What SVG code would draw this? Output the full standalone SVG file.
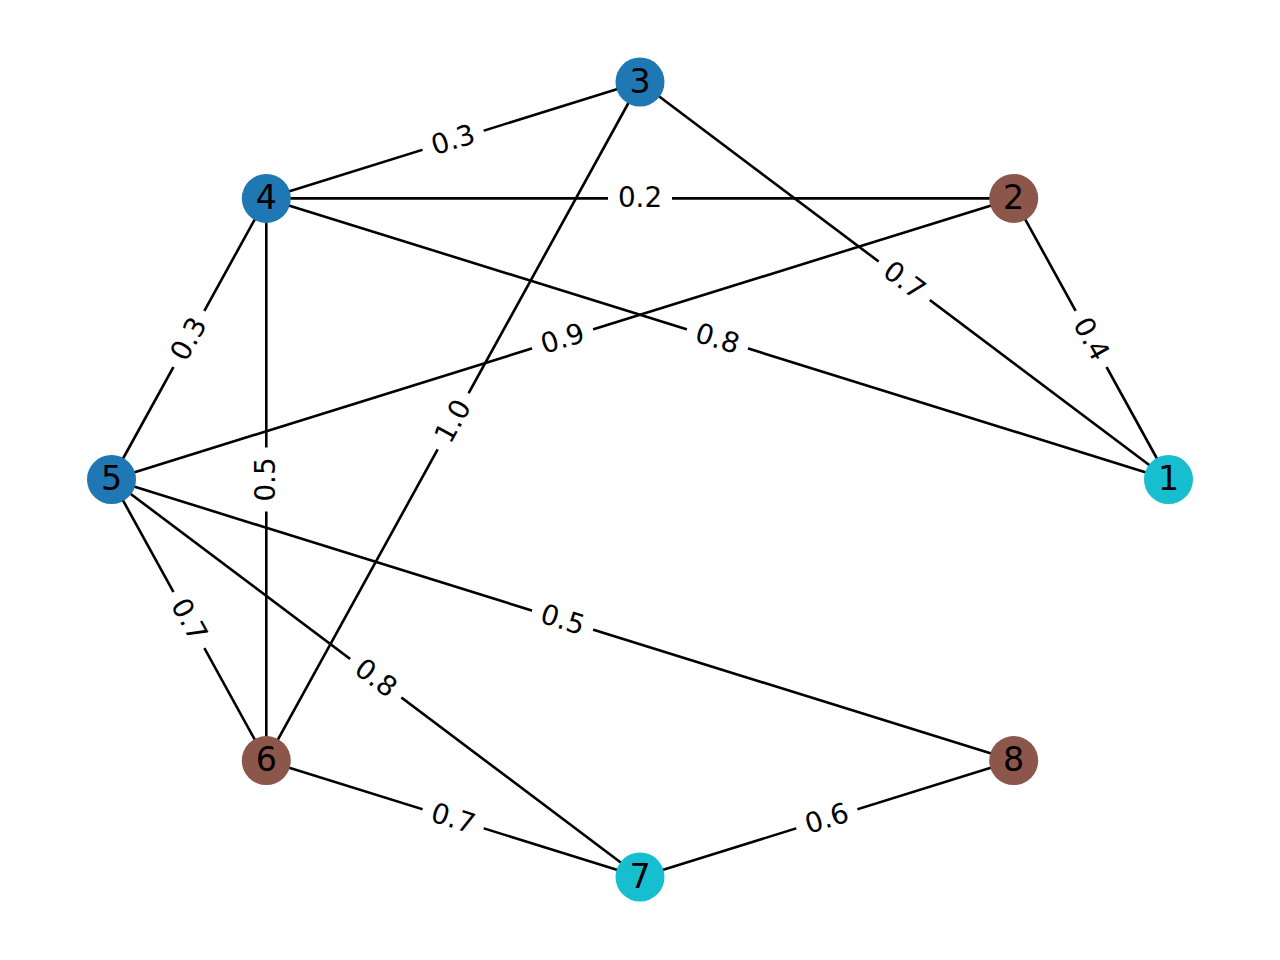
<svg xmlns="http://www.w3.org/2000/svg" width="1280" height="960" viewBox="0 0 1280 960">
<style>
.e{stroke:#000;stroke-width:2.6;fill:none}
.lb rect{fill:#fff;stroke:#fff}
.lb text{font-family:"DejaVu Sans",sans-serif;font-size:27.8px;text-anchor:middle;fill:#000}
.n text{font-family:"DejaVu Sans",sans-serif;font-size:33.3px;text-anchor:middle;fill:#000}
.blue{fill:#1f77b4}.brown{fill:#8c564b}.cyan{fill:#17becf}
</style>
<defs>
<rect id="bx" x="-32" y="-19" width="64" height="38" rx="9"/>
</defs>
<rect width="1280" height="960" fill="#fff"/>
<g id="edges">
<line class="e" x1="266.3" y1="198.4" x2="640" y2="82"/>
<line class="e" x1="266.3" y1="198.4" x2="1013.7" y2="198.4"/>
<line class="e" x1="640" y1="82" x2="1168.5" y2="479.5"/>
<line class="e" x1="1013.7" y1="198.4" x2="1168.5" y2="479.5"/>
<line class="e" x1="266.3" y1="198.4" x2="1168.5" y2="479.5"/>
<line class="e" x1="111.5" y1="479.5" x2="1013.7" y2="198.4"/>
<line class="e" x1="266.3" y1="760.6" x2="640" y2="82"/>
<line class="e" x1="111.5" y1="479.5" x2="266.3" y2="198.4"/>
<line class="e" x1="266.3" y1="198.4" x2="266.3" y2="760.6"/>
<line class="e" x1="111.5" y1="479.5" x2="1013.7" y2="760.6"/>
<line class="e" x1="111.5" y1="479.5" x2="266.3" y2="760.6"/>
<line class="e" x1="111.5" y1="479.5" x2="640" y2="877"/>
<line class="e" x1="266.3" y1="760.6" x2="640" y2="877"/>
<line class="e" x1="640" y1="877" x2="1013.7" y2="760.6"/>
</g>
<g id="edge-labels">
<g class="lb" transform="translate(453.15,140.2) rotate(-17.3)"><use href="#bx" fill="#fff"/><text y="9">0.3</text></g>
<g class="lb" transform="translate(640,198.4)"><use href="#bx" fill="#fff"/><text y="9">0.2</text></g>
<g class="lb" transform="translate(904.25,280.75) rotate(36.95)"><use href="#bx" fill="#fff"/><text y="9">0.7</text></g>
<g class="lb" transform="translate(1091.1,338.95) rotate(61.16)"><use href="#bx" fill="#fff"/><text y="9">0.4</text></g>
<g class="lb" transform="translate(717.4,338.95) rotate(17.3)"><use href="#bx" fill="#fff"/><text y="9">0.8</text></g>
<g class="lb" transform="translate(562.6,338.95) rotate(-17.3)"><use href="#bx" fill="#fff"/><text y="9">0.9</text></g>
<g class="lb" transform="translate(453.15,421.3) rotate(-61.16)"><use href="#bx" fill="#fff"/><text y="9">1.0</text></g>
<g class="lb" transform="translate(188.9,338.95) rotate(-61.16)"><use href="#bx" fill="#fff"/><text y="9">0.3</text></g>
<g class="lb" transform="translate(266.3,479.5) rotate(-90)"><use href="#bx" fill="#fff"/><text y="9">0.5</text></g>
<g class="lb" transform="translate(562.6,620.05) rotate(17.3)"><use href="#bx" fill="#fff"/><text y="9">0.5</text></g>
<g class="lb" transform="translate(188.9,620.05) rotate(61.16)"><use href="#bx" fill="#fff"/><text y="9">0.7</text></g>
<g class="lb" transform="translate(375.75,678.25) rotate(36.95)"><use href="#bx" fill="#fff"/><text y="9">0.8</text></g>
<g class="lb" transform="translate(453.15,818.8) rotate(17.3)"><use href="#bx" fill="#fff"/><text y="9">0.7</text></g>
<g class="lb" transform="translate(826.85,818.8) rotate(-17.3)"><use href="#bx" fill="#fff"/><text y="9">0.6</text></g>
</g>
<g id="node1" class="n"><circle class="cyan" cx="1168.5" cy="479.5" r="24.5"/><text x="1168.5" y="490">1</text></g>
<g id="node2" class="n"><circle class="brown" cx="1013.7" cy="198.4" r="24.5"/><text x="1013.7" y="209">2</text></g>
<g id="node3" class="n"><circle class="blue" cx="640" cy="82" r="24.5"/><text x="640" y="92.5">3</text></g>
<g id="node4" class="n"><circle class="blue" cx="266.3" cy="198.4" r="24.5"/><text x="266.3" y="209">4</text></g>
<g id="node5" class="n"><circle class="blue" cx="111.5" cy="479.5" r="24.5"/><text x="111.5" y="490">5</text></g>
<g id="node6" class="n"><circle class="brown" cx="266.3" cy="760.6" r="24.5"/><text x="266.3" y="771">6</text></g>
<g id="node7" class="n"><circle class="cyan" cx="640" cy="877" r="24.5"/><text x="640" y="887.5">7</text></g>
<g id="node8" class="n"><circle class="brown" cx="1013.7" cy="760.6" r="24.5"/><text x="1013.7" y="771">8</text></g>
</svg>
